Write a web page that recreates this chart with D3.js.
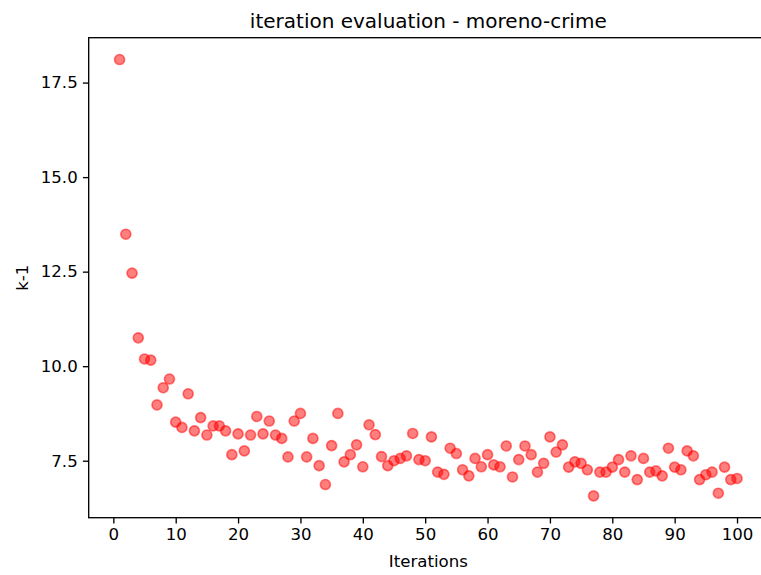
<!DOCTYPE html>
<html>
<head>
<meta charset="utf-8">
<script src="https://cdn.jsdelivr.net/npm/d3@7"></script>
<style>
  html, body { margin: 0; padding: 0; background: #fff; }
  svg { display: block; }
  text { font-family: "DejaVu Sans", sans-serif; fill: #000; }
</style>
</head>
<body>
<svg id="chart" width="761" height="575"></svg>
<script>
// Iteration number and the k-1 value recorded at each iteration
const iterations = d3.range(1, 101);
const kMinus1 = [
  18.11, 13.49, 12.46, 10.75, 10.19, 10.16, 8.975, 9.43, 9.66, 8.52,
  8.38, 9.27, 8.29, 8.64, 8.18, 8.42, 8.42, 8.29, 7.66, 8.21,
  7.76, 8.18, 8.67, 8.21, 8.55, 8.18, 8.09, 7.60, 8.55, 8.75,
  7.60, 8.09, 7.37, 6.87, 7.90, 8.75, 7.47, 7.66, 7.92, 7.34,
  8.45, 8.19, 7.61, 7.37, 7.50, 7.56, 7.63, 8.22, 7.53, 7.50,
  8.13, 7.20, 7.14, 7.83, 7.69, 7.26, 7.10, 7.56, 7.34, 7.66,
  7.39, 7.34, 7.89, 7.07, 7.53, 7.89, 7.66, 7.20, 7.43, 8.13,
  7.73, 7.92, 7.33, 7.47, 7.43, 7.26, 6.57, 7.20, 7.20, 7.33,
  7.53, 7.20, 7.63, 7.00, 7.56, 7.20, 7.23, 7.10, 7.83, 7.33,
  7.26, 7.76, 7.63, 7.00, 7.13, 7.20, 6.64, 7.33, 7.00, 7.03
];
const xTicks = d3.range(0, 101, 10);
const yTicks = [7.5, 10.0, 12.5, 15.0, 17.5];
const titleText = "iteration evaluation - moreno-crime";
const xLabel = "Iterations";
const yLabel = "k-1";

const svg = d3.select("#chart");

// plot area
const plotLeft = 88.7, plotRight = 767.9, plotTop = 37.7, plotBottom = 517.7;

// 5% padding around the data on both axes
function padded(values) {
  const [lo, hi] = d3.extent(values);
  const m = (hi - lo) * 0.05;
  return [lo - m, hi + m];
}

const x = d3.scaleLinear().domain(padded(iterations)).range([plotLeft, plotRight]);
const y = d3.scaleLinear().domain(padded(kMinus1)).range([plotBottom, plotTop]);

const fontSize = 16.6;
const tickLen = 5.8;

// points
const pts = iterations.map((it, i) => ({ it, v: kMinus1[i] }));
svg.append("g")
  .selectAll("circle")
  .data(pts)
  .join("circle")
  .attr("cx", d => x(d.it))
  .attr("cy", d => y(d.v))
  .attr("r", 5)
  .attr("fill", "red")
  .attr("fill-opacity", 0.5)
  .attr("stroke", "red")
  .attr("stroke-opacity", 0.5)
  .attr("stroke-width", 1.66);

// x axis
const xAxis = svg.append("g")
  .attr("transform", `translate(0,${plotBottom})`)
  .call(d3.axisBottom(x).tickValues(xTicks).tickSize(tickLen).tickPadding(5.2).tickFormat(d3.format("d")));
xAxis.select(".domain").remove();
xAxis.selectAll(".tick line").attr("stroke", "#000").attr("stroke-width", 1.33);
xAxis.selectAll(".tick text").style("font-size", fontSize + "px").style("font-family", "DejaVu Sans").attr("fill", "#000");

// y axis
const yAxis = svg.append("g")
  .attr("transform", `translate(${plotLeft},0)`)
  .call(d3.axisLeft(y).tickValues(yTicks).tickSize(tickLen).tickPadding(5.2).tickFormat(d3.format(".1f")));
yAxis.select(".domain").remove();
yAxis.selectAll(".tick line").attr("stroke", "#000").attr("stroke-width", 1.33);
yAxis.selectAll(".tick text").style("font-size", fontSize + "px").style("font-family", "DejaVu Sans").attr("fill", "#000");

// frame
svg.append("rect")
  .attr("x", plotLeft).attr("y", plotTop)
  .attr("width", plotRight - plotLeft).attr("height", plotBottom - plotTop)
  .attr("fill", "none")
  .attr("stroke", "#000")
  .attr("stroke-width", 1.33);

// title and axis labels
svg.append("text")
  .attr("x", (plotLeft + plotRight) / 2)
  .attr("y", 27.5)
  .attr("text-anchor", "middle")
  .style("font-size", "20px")
  .text(titleText);

svg.append("text")
  .attr("x", (plotLeft + plotRight) / 2)
  .attr("y", 567)
  .attr("text-anchor", "middle")
  .style("font-size", fontSize + "px")
  .text(xLabel);

svg.append("text")
  .attr("transform", `translate(28,${(plotTop + plotBottom) / 2}) rotate(-90)`)
  .attr("text-anchor", "middle")
  .style("font-size", fontSize + "px")
  .text(yLabel);
</script>
</body>
</html>
